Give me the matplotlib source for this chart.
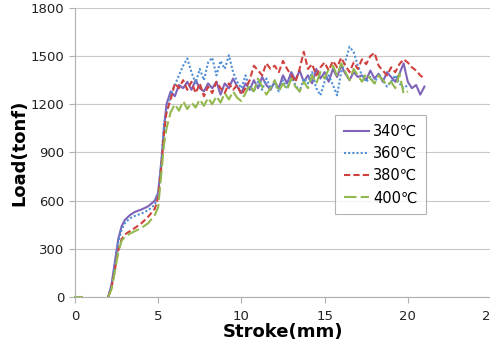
import matplotlib
matplotlib.use('Agg')
import matplotlib.pyplot as plt

# Stroke positions (mm)
stroke_rise = [2.0, 2.2, 2.4, 2.6, 2.8, 3.0, 3.3, 3.6, 4.0, 4.4, 4.8, 5.0, 5.2, 5.35]
stroke_flat = [5.5, 5.75, 6.0, 6.25, 6.5, 6.75, 7.0, 7.25, 7.5, 7.75,
               8.0, 8.25, 8.5, 8.75, 9.0, 9.25, 9.5, 9.75, 10.0, 10.25,
               10.5, 10.75, 11.0, 11.25, 11.5, 11.75, 12.0, 12.25, 12.5, 12.75,
               13.0, 13.25, 13.5, 13.75, 14.0, 14.25, 14.5, 14.75, 15.0, 15.25,
               15.5, 15.75, 16.0, 16.25, 16.5, 16.75, 17.0, 17.25, 17.5, 17.75,
               18.0, 18.25, 18.5, 18.75, 19.0, 19.25, 19.5, 19.75, 20.0, 20.25,
               20.5, 20.75, 21.0]
# short piece of the 400 curve visible at the very start
stroke_start = [0, 0.45]
load_start = [0, 0]

# Load (tonf)
load_340 = [0, 80, 220, 360, 440, 480, 510, 530, 545, 565, 600, 650, 850, 1050,
            1200, 1280, 1250, 1320, 1300, 1340, 1290, 1350, 1300, 1280,
            1330, 1300, 1340, 1260, 1330, 1300, 1360, 1310, 1270, 1330,
            1290, 1350, 1300, 1370, 1320, 1290, 1340, 1300, 1380, 1330,
            1400, 1350, 1410, 1340, 1380, 1330, 1420, 1360, 1400, 1340,
            1420, 1370, 1440, 1390, 1350, 1400, 1370, 1380, 1350, 1410,
            1360, 1390, 1340, 1400, 1370, 1340, 1390, 1455, 1340, 1300,
            1320, 1260, 1310]
load_360 = [0, 70, 200, 340, 420, 460, 490, 505, 520, 540, 575, 640, 860, 1080,
            1150, 1260, 1320, 1380, 1440, 1485, 1400, 1330, 1420, 1350,
            1460, 1490, 1380, 1470, 1420, 1505, 1400, 1340, 1300, 1380,
            1300, 1280, 1340, 1290, 1360, 1300, 1330, 1280, 1350, 1300,
            1370, 1320, 1280, 1360, 1330, 1400, 1300, 1256, 1340, 1380,
            1320, 1256, 1400, 1470, 1558, 1525, 1440, 1380, 1340, 1370,
            1330, 1390, 1350, 1310, 1340, 1380, 1330, 1300, 1320]
load_380 = [0, 60, 170, 290, 360, 390, 410, 430, 460, 500, 550, 620, 820, 1020,
            1150, 1230, 1330, 1300, 1350, 1290, 1340, 1270, 1330, 1250,
            1310, 1270, 1340, 1300, 1270, 1330, 1290, 1320, 1260, 1300,
            1350, 1440, 1410, 1380, 1455, 1420, 1440, 1400, 1470, 1420,
            1380, 1340, 1420, 1527, 1420, 1450, 1380, 1430, 1460, 1410,
            1470, 1430, 1490, 1440, 1400, 1460, 1420, 1480, 1450, 1500,
            1520, 1440, 1410, 1380, 1430, 1400, 1450, 1480, 1460, 1430,
            1410, 1380, 1360]
load_400 = [0, 50, 160, 280, 350, 375, 395, 410, 430, 460, 510, 560, 780, 950,
            1050, 1150, 1200, 1160, 1220, 1170, 1210, 1180, 1230, 1190,
            1240, 1200, 1250, 1210, 1270, 1230, 1280, 1240, 1220, 1270,
            1320, 1280, 1360, 1310, 1260, 1300, 1350, 1280, 1330, 1290,
            1360, 1310, 1280, 1340, 1300, 1380, 1330, 1400, 1360, 1420,
            1440, 1380, 1455, 1400, 1350, 1420, 1380, 1340, 1390, 1360,
            1330, 1380, 1350, 1320, 1340, 1300, 1390, 1266, 1280]

labels = ['340\u2103', '360\u2103', '380\u2103', '400\u2103']
colors = ['#7F63B8', '#4F8FD6', '#D0403C', '#93B84E']
styles = ['-', (0, (1, 1)), (0, (3, 1.5)), (0, (6, 2))]

stroke = stroke_rise + stroke_flat
series = [load_340, load_360, load_380, load_400]

fig = plt.figure(figsize=(4.9, 3.43), dpi=100)
ax = fig.add_axes([0.153, 0.134, 0.849, 0.843])

for ys, lab, c, ls in zip(series, labels, colors, styles):
    ax.plot(stroke[:len(ys)], ys, color=c, linestyle=ls, linewidth=1.5, label=lab)
ax.plot(stroke_start, load_start, color=colors[3], linewidth=1.5, clip_on=False)

ax.set_xlim(0, 25)
ax.set_ylim(0, 1800)
ax.set_xticks([0, 5, 10, 15, 20, 25])
ax.set_yticks([0, 300, 600, 900, 1200, 1500, 1800])
ax.yaxis.grid(True, color='#C8C8C8', linewidth=0.8)
ax.set_axisbelow(True)
for s in ['top', 'right']:
    ax.spines[s].set_visible(False)
for s in ['left', 'bottom']:
    ax.spines[s].set_color('#B0B0B0')
ax.tick_params(axis='both', labelsize=9.5, colors='#B0B0B0', labelcolor='#222222', length=4)
ax.tick_params(axis='x', pad=5)

ax.set_xlabel('Stroke(mm)', fontsize=13, fontweight='bold', labelpad=0)
ax.set_ylabel('Load(tonf)', fontsize=13, fontweight='bold', labelpad=2)

leg = ax.legend(loc='upper left', bbox_to_anchor=(0.625, 0.63), fontsize=10.5,
                frameon=True, fancybox=False, handlelength=1.7, handletextpad=0.3,
                borderpad=0.6, labelspacing=0.5, borderaxespad=0)
leg.get_frame().set_edgecolor('#A0A0A0')
leg.get_frame().set_linewidth(0.8)

fig.savefig('out.png', dpi=100)
